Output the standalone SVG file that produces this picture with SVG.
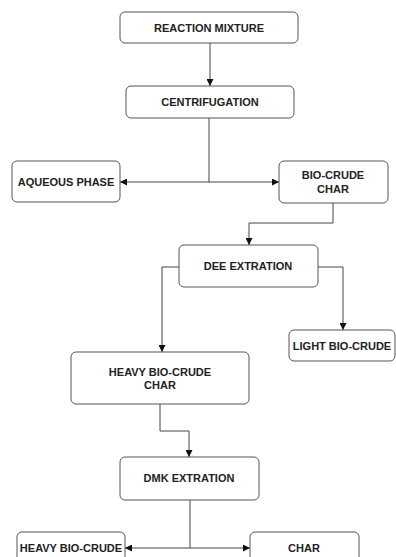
<svg xmlns="http://www.w3.org/2000/svg" width="396" height="557" viewBox="0 0 396 557">
<defs>
<style>
.box{fill:#fff;stroke:#555;stroke-width:1}
.lbl{font-family:"Liberation Sans",Arial,sans-serif;font-weight:bold;font-size:11px;fill:#222;text-anchor:middle}
.ln{fill:none;stroke:#444;stroke-width:1}
</style>
<marker id="ah" viewBox="0 0 10 10" refX="10" refY="5" markerWidth="7" markerHeight="7" orient="auto" markerUnits="userSpaceOnUse">
<path d="M0,0 L10,5 L0,10 Z" fill="#111"/>
</marker>
</defs>
<rect width="396" height="557" fill="#fff"/>
<g id="connectors">
<path class="ln" d="M210,43 V86" marker-end="url(#ah)"/>
<path class="ln" d="M209,118 V182"/>
<path class="ln" d="M209,182 H120" marker-end="url(#ah)"/>
<path class="ln" d="M209,182 H279" marker-end="url(#ah)"/>
<path class="ln" d="M333,203 V223 H249 V245" marker-end="url(#ah)"/>
<path class="ln" d="M179,267 H162 V352" marker-end="url(#ah)"/>
<path class="ln" d="M318,267 H343 V330" marker-end="url(#ah)"/>
<path class="ln" d="M160,404 V431 H189 V457" marker-end="url(#ah)"/>
<path class="ln" d="M190,500 V548"/>
<path class="ln" d="M190,548 H125" marker-end="url(#ah)"/>
<path class="ln" d="M190,548 H250" marker-end="url(#ah)"/>
</g>
<g id="reaction-mixture">
<rect class="box" x="120" y="12" width="178" height="31" rx="5"/>
<text class="lbl" x="209" y="31.5">REACTION MIXTURE</text>
</g>
<g id="centrifugation">
<rect class="box" x="126" y="86" width="168" height="32" rx="5"/>
<text class="lbl" x="210" y="106">CENTRIFUGATION</text>
</g>
<g id="aqueous-phase">
<rect class="box" x="12" y="161" width="108" height="41" rx="5"/>
<text class="lbl" x="66" y="186">AQUEOUS PHASE</text>
</g>
<g id="bio-crude-char">
<rect class="box" x="279" y="161" width="109" height="42" rx="5"/>
<text class="lbl" x="333" y="179">BIO-CRUDE</text>
<text class="lbl" x="333" y="193">CHAR</text>
</g>
<g id="dee-extration">
<rect class="box" x="179" y="245" width="139" height="42" rx="5"/>
<text class="lbl" x="248" y="270">DEE EXTRATION</text>
</g>
<g id="light-bio-crude">
<rect class="box" x="289" y="330" width="106" height="31" rx="5"/>
<text class="lbl" x="342" y="349.5">LIGHT BIO-CRUDE</text>
</g>
<g id="heavy-bio-crude-char">
<rect class="box" x="71" y="352" width="178" height="52" rx="5"/>
<text class="lbl" x="160" y="376">HEAVY BIO-CRUDE</text>
<text class="lbl" x="160" y="389">CHAR</text>
</g>
<g id="dmk-extration">
<rect class="box" x="120" y="457" width="139" height="43" rx="5"/>
<text class="lbl" x="189" y="482">DMK EXTRATION</text>
</g>
<g id="heavy-bio-crude">
<rect class="box" x="17" y="532" width="108" height="40" rx="5"/>
<text class="lbl" x="71" y="552">HEAVY BIO-CRUDE</text>
</g>
<g id="char">
<rect class="box" x="250" y="532" width="109" height="40" rx="5"/>
<text class="lbl" x="304" y="552">CHAR</text>
</g>
</svg>
